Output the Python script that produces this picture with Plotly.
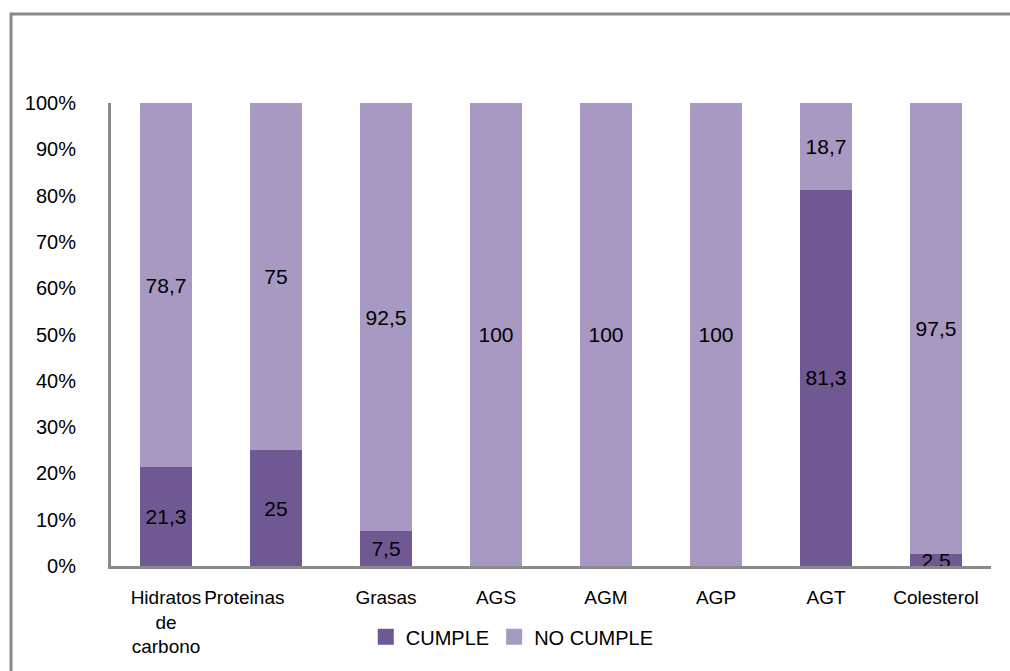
import plotly.graph_objects as go

# Nutrient categories and compliance percentages
categorias = ["Hidratos<br>de<br>carbono", "Proteinas", "Grasas", "AGS", "AGM", "AGP", "AGT", "Colesterol"]
etiquetas_x = ["Hidratos<br>de<br>carbono", "Proteinas" + "\u00a0" * 12, "Grasas", "AGS", "AGM", "AGP", "AGT", "Colesterol"]
cumple = [21.3, 25, 7.5, 0, 0, 0, 81.3, 2.5]
no_cumple = [78.7, 75, 92.5, 100, 100, 100, 18.7, 97.5]
y_ticks = [0, 10, 20, 30, 40, 50, 60, 70, 80, 90, 100]
y_etiquetas = [f"{t}%" for t in y_ticks]

COLOR_CUMPLE = "#705892"
COLOR_NO_CUMPLE = "#a799c1"
FONT = "Liberation Sans, Arial, sans-serif"


def etiqueta(v):
    if v == 0:
        return ""
    return f"{v:g}".replace(".", ",")


fig = go.Figure()
series = [
    ("CUMPLE", cumple, COLOR_CUMPLE),
    ("NO CUMPLE", no_cumple, COLOR_NO_CUMPLE),
]
for nombre, valores, color in series:
    fig.add_trace(go.Bar(
        x=categorias,
        y=valores,
        name=nombre,
        showlegend=False,
        marker=dict(color=color, line=dict(width=0)),
        text=[etiqueta(v) for v in valores],
        textposition="inside",
        insidetextanchor="middle",
        constraintext="none",
        textfont=dict(family=FONT, size=21, color="black"),
        textangle=0,
    ))

# Legend entries with larger square swatches
for nombre, valores, color in series:
    fig.add_trace(go.Scatter(
        x=[None],
        y=[None],
        name=nombre,
        mode="markers",
        marker=dict(symbol="square", size=17, color=color),
        showlegend=True,
    ))

fig.update_layout(
    barmode="stack",
    bargap=0.53,
    width=1010,
    height=671,
    margin=dict(l=111, r=19, t=103, b=105),
    paper_bgcolor="white",
    plot_bgcolor="white",
    font=dict(family=FONT, size=20, color="black"),
    showlegend=True,
    legend=dict(
        orientation="h",
        x=0.456,
        xanchor="center",
        y=-0.153,
        yanchor="middle",
        font=dict(family=FONT, size=20, color="black"),
        itemclick=False,
        traceorder="normal",
        itemwidth=30,
    ),
    xaxis=dict(
        tickmode="array",
        tickvals=categorias,
        ticktext=etiquetas_x,
        tickangle=0,
        automargin=False,
        showline=True,
        linecolor="#8a8a8a",
        linewidth=3,
        showgrid=False,
        ticks="outside",
        ticklen=0,
        ticklabelstandoff=12,
        tickfont=dict(family=FONT, size=19, color="black"),
    ),
    yaxis=dict(
        range=[0, 100],
        tickmode="array",
        tickvals=y_ticks,
        ticktext=y_etiquetas,
        automargin=False,
        showline=True,
        linecolor="#8a8a8a",
        linewidth=3,
        showgrid=False,
        zeroline=False,
        ticks="outside",
        ticklen=0,
        ticklabelstandoff=28,
        tickfont=dict(family=FONT, size=20, color="black"),
    ),
    shapes=[
        dict(
            type="rect",
            xref="paper",
            yref="paper",
            x0=-0.1136,
            x1=1.3,
            y0=-0.5,
            y1=1.192,
            line=dict(color="#8a8a8a", width=3),
            fillcolor="rgba(0,0,0,0)",
            layer="below",
        )
    ],
)

fig.write_html("out.html")
